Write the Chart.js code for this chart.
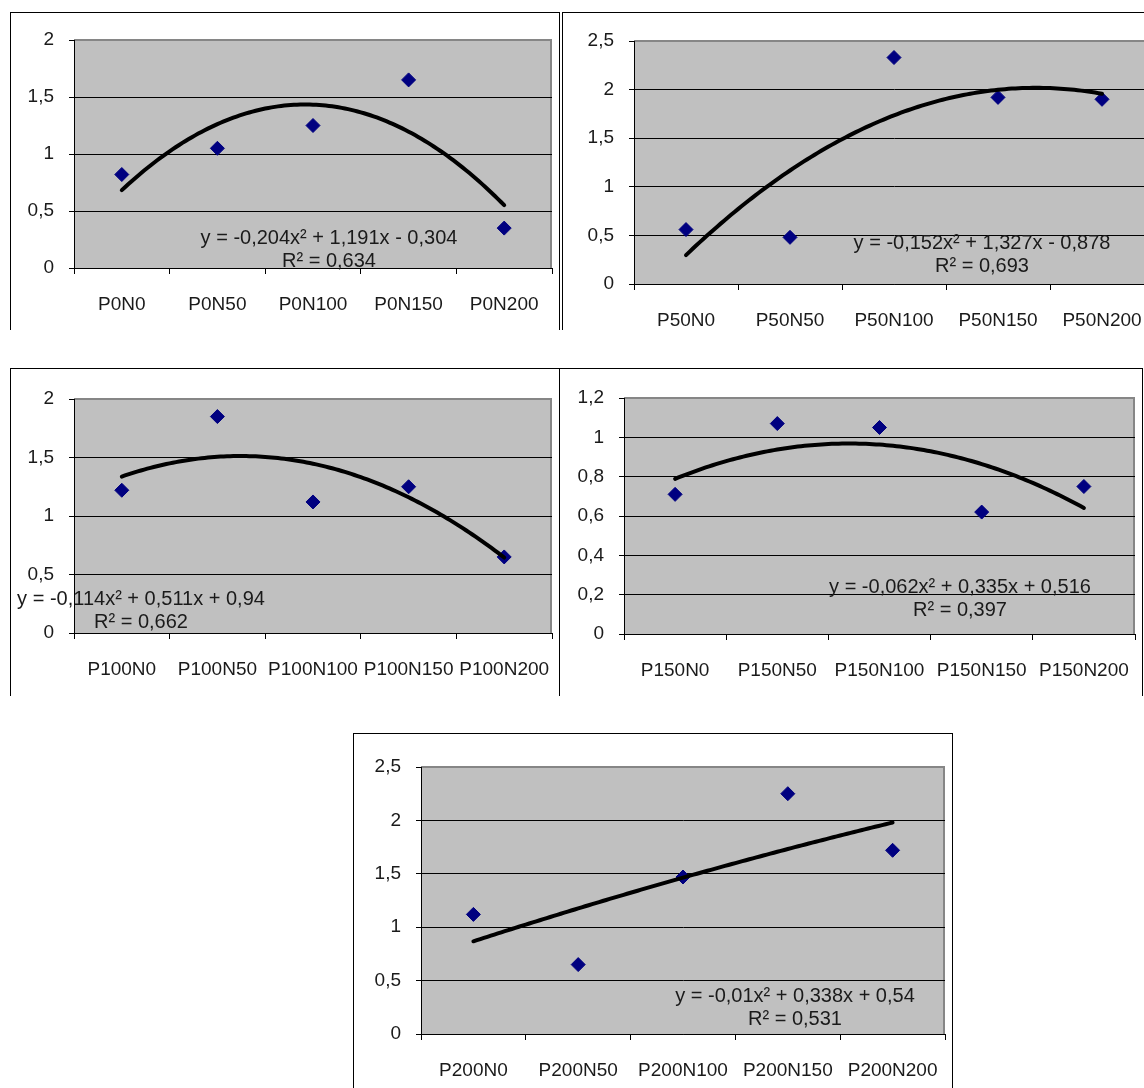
<!DOCTYPE html>
<html>
<head>
<meta charset="utf-8">
<title>P / N trendlines</title>
<script src="https://cdn.jsdelivr.net/npm/chart.js@4.4.1/dist/chart.umd.min.js"></script>
<style>
  html, body { margin: 0; padding: 0; background: #fff; }
  body { position: relative; width: 1144px; height: 1088px; overflow: hidden; }
  .frame { position: absolute; box-sizing: border-box; border: 1px solid #000; border-bottom: none; overflow: hidden; }
  .frame canvas { position: absolute; left: -1px; top: -1px; }
</style>
</head>
<body>
<div class="frame" id="f1"><canvas id="c1"></canvas></div>
<div class="frame" id="f2"><canvas id="c2"></canvas></div>
<div class="frame" id="f3"><canvas id="c3"></canvas></div>
<div class="frame" id="f4"><canvas id="c4"></canvas></div>
<div class="frame" id="f5"><canvas id="c5"></canvas></div>
<script>
// --- Data ---
const labelsP0 = ['P0N0', 'P0N50', 'P0N100', 'P0N150', 'P0N200'];
const valuesP0 = [0.82, 1.05, 1.25, 1.65, 0.35];
const ticksP0 = [0, 0.5, 1, 1.5, 2];
const coefP0 = [-0.204, 1.191, -0.304];
const eqP0 = ['y = -0,204x² + 1,191x - 0,304', 'R² = 0,634'];

const labelsP50 = ['P50N0', 'P50N50', 'P50N100', 'P50N150', 'P50N200'];
const valuesP50 = [0.56, 0.48, 2.33, 1.92, 1.90];
const ticksP50 = [0, 0.5, 1, 1.5, 2, 2.5];
const coefP50 = [-0.152, 1.327, -0.878];
const eqP50 = ['y = -0,152x² + 1,327x - 0,878', 'R² = 0,693'];

const labelsP100 = ['P100N0', 'P100N50', 'P100N100', 'P100N150', 'P100N200'];
const valuesP100 = [1.22, 1.85, 1.12, 1.25, 0.65];
const ticksP100 = [0, 0.5, 1, 1.5, 2];
const coefP100 = [-0.114, 0.511, 0.94];
const eqP100 = ['y = -0,114x² + 0,511x + 0,94', 'R² = 0,662'];

const labelsP150 = ['P150N0', 'P150N50', 'P150N100', 'P150N150', 'P150N200'];
const valuesP150 = [0.71, 1.07, 1.05, 0.62, 0.75];
const ticksP150 = [0, 0.2, 0.4, 0.6, 0.8, 1, 1.2];
const coefP150 = [-0.062, 0.335, 0.516];
const eqP150 = ['y = -0,062x² + 0,335x + 0,516', 'R² = 0,397'];

const labelsP200 = ['P200N0', 'P200N50', 'P200N100', 'P200N150', 'P200N200'];
const valuesP200 = [1.12, 0.65, 1.47, 2.25, 1.72];
const ticksP200 = [0, 0.5, 1, 1.5, 2, 2.5];
const coefP200 = [-0.01, 0.338, 0.54];
const eqP200 = ['y = -0,01x² + 0,338x + 0,54', 'R² = 0,531'];

// --- Page layout (page pixels): frame box, plot area, equation centre ---
const FONT = '"Liberation Sans", Arial, sans-serif';
Chart.defaults.font.family = FONT;

// grey plot area with darker edge
const plotBg = {
    id: 'plotBg',
    beforeDraw(chart) {
        const a = chart.chartArea, ctx = chart.ctx;
        ctx.save();
        ctx.fillStyle = '#c0c0c0';
        ctx.fillRect(a.left, a.top, a.right - a.left, a.bottom - a.top);
        ctx.strokeStyle = '#868686';
        ctx.lineWidth = 2;
        ctx.beginPath();
        ctx.moveTo(a.left, a.top);
        ctx.lineTo(a.right - 1, a.top);
        ctx.lineTo(a.right - 1, a.bottom);
        ctx.stroke();
        ctx.restore();
    }
};

// polynomial trendline + its equation text
const trend = {
    id: 'trend',
    afterDatasetsDraw(chart, args, opts) {
        const xs = chart.scales.x, ys = chart.scales.y, ctx = chart.ctx;
        const n = chart.data.labels.length;
        ctx.save();
        ctx.strokeStyle = '#000';
        ctx.lineWidth = 4;
        ctx.lineCap = 'round';
        ctx.lineJoin = 'round';
        ctx.beginPath();
        for (let k = 0; k <= 120; k++) {
            const t = 1 + (n - 1) * k / 120;   // Excel x = 1..n
            const y = opts.coef[0] * t * t + opts.coef[1] * t + opts.coef[2];
            const px = xs.getPixelForValue(t - 1), py = ys.getPixelForValue(y);
            if (k === 0) ctx.moveTo(px, py); else ctx.lineTo(px, py);
        }
        ctx.stroke();
        ctx.restore();
    },
    afterDraw(chart, args, opts) {
        const ctx = chart.ctx;
        ctx.save();
        ctx.fillStyle = '#1a1a1a';
        ctx.font = '20px ' + FONT;
        ctx.textAlign = 'center';
        ctx.textBaseline = 'middle';
        ctx.fillText(opts.eq[0], opts.pos[0], opts.pos[1]);
        ctx.fillText(opts.eq[1], opts.pos[0], opts.pos[1] + 23);
        ctx.restore();
    }
};

function fmt(v) {
    return String(Math.round(v * 10) / 10).replace('.', ',');
}

function makeChart(id, box, plot, eqPos, labels, values, ticks, coef, eq) {
    const frame = document.getElementById('f' + id);
    frame.style.left = box[0] + 'px';
    frame.style.top = box[1] + 'px';
    frame.style.width = box[2] + 'px';
    frame.style.height = box[3] + 'px';
    const canvas = document.getElementById('c' + id);
    canvas.width = box[2];
    canvas.height = box[3];

    // plot area in canvas coords
    const pl = plot[0] - box[0], pt = plot[1] - box[1];
    const pr = plot[2] - box[0], pb = plot[3] - box[1];
    const yMax = ticks[ticks.length - 1];

    new Chart(canvas, {
        type: 'line',
        data: {
            labels: labels,
            datasets: [{
                data: values,
                showLine: false,
                pointStyle: 'rectRot',
                pointRadius: 7,
                pointBackgroundColor: '#000080',
                pointBorderColor: '#000080',
                pointBorderWidth: 1
            }]
        },
        options: {
            responsive: false,
            animation: false,
            devicePixelRatio: 1,
            layout: { padding: { left: 0, top: pt, right: box[2] - pr, bottom: 0 } },
            plugins: {
                legend: { display: false },
                tooltip: { enabled: false },
                trend: { coef: coef, eq: eq, pos: [eqPos[0] - box[0], eqPos[1] - box[1]] }
            },
            scales: {
                x: {
                    offset: true,
                    grid: { offset: true, drawOnChartArea: false, tickLength: 6, color: '#000' },
                    border: { color: '#000', width: 1 },
                    ticks: { color: '#1a1a1a', font: { size: 19 }, padding: 19, maxRotation: 0, autoSkip: false },
                    afterFit: s => { s.height = box[3] - pb; s.paddingLeft = 0; s.paddingRight = 0; }
                },
                y: {
                    min: ticks[0],
                    max: yMax,
                    grid: {
                        color: c => (c.tick && c.tick.value === yMax) ? '#868686' : '#000',
                        tickColor: '#000',
                        tickLength: 5,
                        lineWidth: 1
                    },
                    border: { color: '#000', width: 1 },
                    ticks: {
                        stepSize: ticks[1] - ticks[0],
                        color: '#1a1a1a',
                        font: { size: 19 },
                        padding: 15,
                        callback: v => fmt(v)
                    },
                    afterFit: s => { s.width = pl; s.paddingTop = 0; s.paddingBottom = 0; }
                }
            }
        },
        plugins: [plotBg, trend]
    });
}

makeChart(1, [10, 12, 550, 318], [74, 40, 555, 268], [329, 238], labelsP0, valuesP0, ticksP0, coefP0, eqP0);
makeChart(2, [562, 12, 600, 318], [634, 41, 1154, 284], [982, 243], labelsP50, valuesP50, ticksP50, coefP50, eqP50);
makeChart(3, [10, 368, 550, 328], [74, 399, 555, 633], [141, 599], labelsP100, valuesP100, ticksP100, coefP100, eqP100);
makeChart(4, [559, 368, 584, 328], [624, 398, 1135, 634], [960, 587], labelsP150, valuesP150, ticksP150, coefP150, eqP150);
makeChart(5, [353, 733, 600, 360], [421, 767, 946, 1034], [795, 996], labelsP200, valuesP200, ticksP200, coefP200, eqP200);
</script>
</body>
</html>
